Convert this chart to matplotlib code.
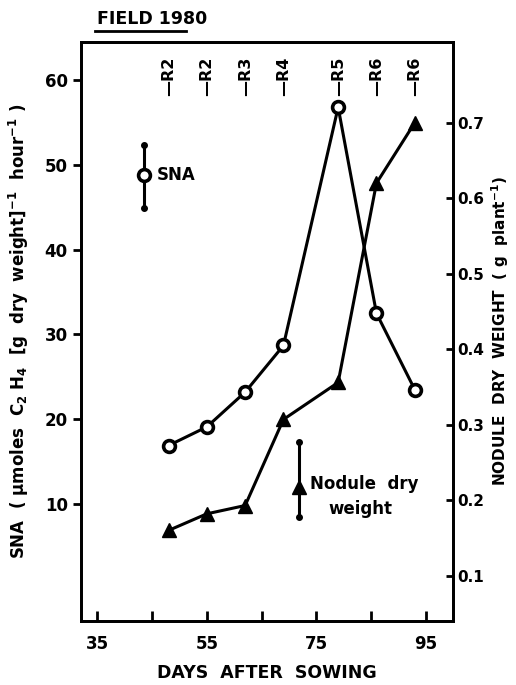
import matplotlib
matplotlib.use("Agg")
import matplotlib.pyplot as plt

plt.rcParams["font.family"] = ["DejaVu Sans"]
plt.rcParams["font.weight"] = "bold"
plt.rcParams["mathtext.default"] = "bf"

# ── Data ──────────────────────────────────────────────────────────────────
days = [48, 55, 62, 69, 79, 86, 93]
sna = [16.9, 19.1, 23.2, 28.7, 56.8, 32.5, 23.5]
nodule_dw = [0.160, 0.182, 0.193, 0.307, 0.356, 0.620, 0.700]
stages = ["R2", "R2", "R3", "R4", "R5", "R6", "R6"]

x_ticks = [35, 45, 55, 65, 75, 85, 95]
x_labels = ["35", "", "55", "", "75", "", "95"]
sna_ticks = [10, 20, 30, 40, 50, 60]
ndw_ticks = [0.1, 0.2, 0.3, 0.4, 0.5, 0.6, 0.7]

# legend samples (marker position and bar span)
sna_key = (43.6, 48.8, 44.9, 52.3)
ndw_key = (71.9, 0.218, 0.178, 0.277)

LW = 2.2
fig = plt.figure(figsize=(5.16, 6.85), dpi=100)
ax = fig.add_axes([0.157, 0.0934, 0.721, 0.8453])
ax2 = ax.twinx()

ax.set_xlim(32, 100)
ax.set_ylim(-3.8, 64.5)
ax2.set_ylim(0.040, 0.807)

# SNA curve
ax.plot(days, sna, color="black", lw=LW, marker="o", ms=8.5,
        mfc="white", mec="black", mew=2.6, zorder=3)
# nodule dry weight curve
ax2.plot(days, nodule_dw, color="black", lw=LW, marker="^", ms=10,
         mfc="black", mec="black", zorder=3)

# keys
kx, ky, lo, hi = sna_key
ax.plot([kx, kx], [lo, hi], color="black", lw=LW)
ax.plot([kx], [lo], marker="o", ms=4, color="black")
ax.plot([kx], [hi], marker="o", ms=4, color="black")
ax.plot([kx], [ky], marker="o", ms=8.5, mfc="white", mec="black", mew=2.6)
ax.text(kx + 2.3, ky, "SNA", fontsize=12, fontweight="bold",
        ha="left", va="center")

kx, ky, lo, hi = ndw_key
ax2.plot([kx, kx], [lo, hi], color="black", lw=LW)
ax2.plot([kx], [lo], marker="o", ms=4, color="black")
ax2.plot([kx], [hi], marker="o", ms=4, color="black")
ax2.plot([kx], [ky], marker="^", ms=10, color="black")
ax2.text(kx + 1.9, ky + 0.004, "Nodule  dry", fontsize=12,
         fontweight="bold", ha="left", va="center")
ax2.text(kx + 11.2, ky - 0.030, "weight", fontsize=12,
         fontweight="bold", ha="center", va="center")

# growth stage markers along the top
for d, s in zip(days, stages):
    ax.text(d, 0.94, "\u2014" + s, transform=ax.get_xaxis_transform(),
            rotation=90, ha="center", va="center", fontsize=11.5,
            fontweight="bold")

# axes styling
for a in (ax, ax2):
    for sp in a.spines.values():
        sp.set_linewidth(2)

ax.set_xticks(x_ticks)
ax.set_xticklabels(x_labels)
ax.tick_params(axis="x", direction="in", length=7, width=2,
               labelsize=12, pad=10)
ax.set_yticks(sna_ticks)
ax.tick_params(axis="y", direction="out", length=6, width=2, labelsize=12)
ax2.set_yticks(ndw_ticks)
ax2.set_yticklabels(["0.1", "0.2", "0.3", "0.4", "0.5", "0.6", "0.7"])
ax2.tick_params(axis="y", direction="in", length=5, width=2,
                labelsize=11, pad=3)

ax.set_xlabel("DAYS  AFTER  SOWING", fontsize=12.5, fontweight="bold",
              labelpad=8)
ax.set_ylabel("SNA  ( $\\mu$moles  C$_2$ H$_4$  [g  dry  weight]$^{-1}$"
              "  hour$^{-1}$ )", fontsize=12, fontweight="bold", labelpad=10)
ax2.set_ylabel("NODULE  DRY  WEIGHT  ( g  plant$^{-1}$)", fontsize=11,
               fontweight="bold", labelpad=4)

# title with underline
fig.text(0.188, 0.972, "FIELD 1980", fontsize=12.5, fontweight="bold",
         ha="left", va="center")
fig.add_artist(plt.Line2D([0.185, 0.36], [0.955, 0.955], color="black",
                          lw=2))

fig.savefig("out.png", dpi=100)
